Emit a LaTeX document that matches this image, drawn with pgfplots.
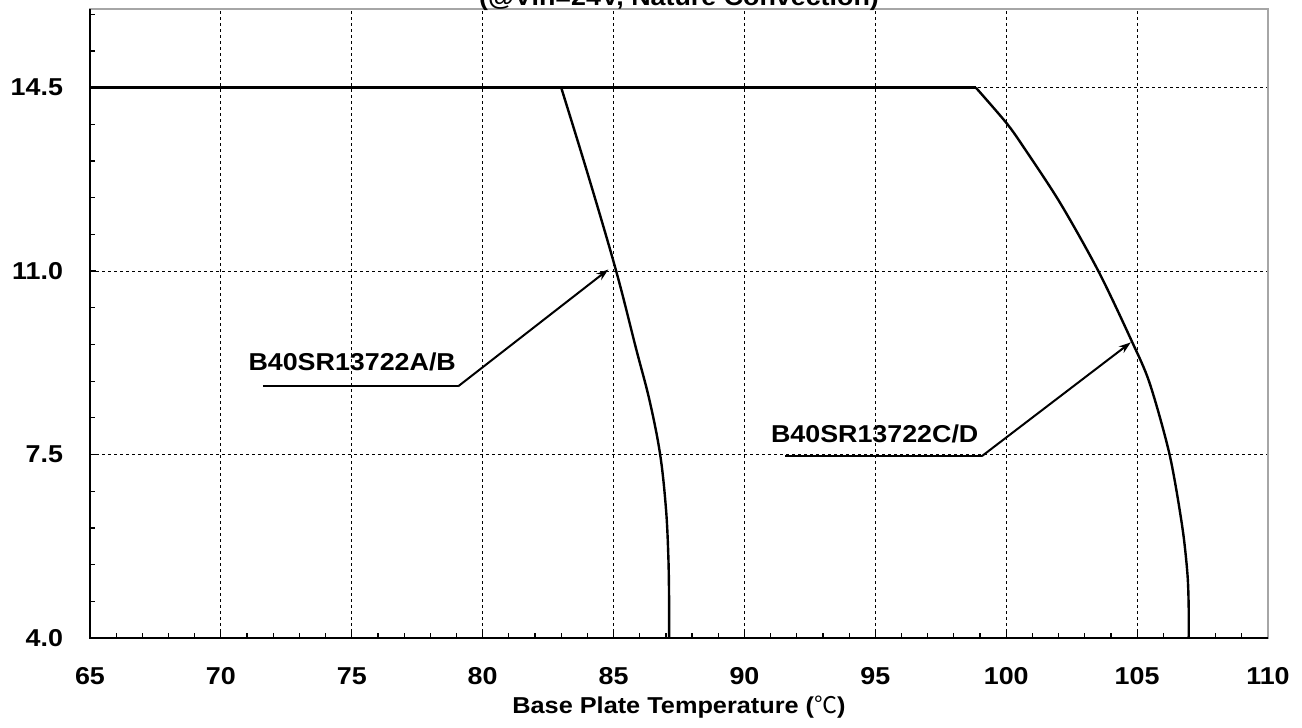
\documentclass[border=0pt]{standalone}
\usepackage{fontspec}
\setmainfont{Liberation Sans}[FakeStretch=1.1]
\newfontfamily\cjk{Noto Sans CJK SC}
\usepackage{pgfplots}
\pgfplotsset{compat=1.18}
\usetikzlibrary{arrows.meta}

\newcommand{\lbl}{\bfseries\fontsize{12.2}{14}\selectfont}

\begin{document}
\begin{tikzpicture}
% 1 px of the reference = 0.5pt
\useasboundingbox (0,0) rectangle (651pt,364pt);
\begin{axis}[
    at={(45pt,45pt)}, anchor=south west,
    width=589pt, height=314.5pt, scale only axis,
    xmin=65, xmax=110, ymin=4, ymax=16,
    xtick={65,70,...,110},
    ytick={4,7.5,11,14.5},
    yticklabels={4.0,7.5,11.0,14.5},
    minor x tick num=4,
    minor ytick={4.7,5.4,6.1,6.8,8.2,8.9,9.6,10.3,11.7,12.4,13.1,13.8,15.2,15.9},
    tick align=inside, tick pos=left,
    major tick length=3pt, minor tick length=2.5pt,
    every tick/.style={black, line width=0.6pt},
    grid=major,
    major grid style={black, line width=0.5pt, dash pattern=on 1.5pt off 1.5pt},
    axis line style={gray!70, line width=0.6pt},
    /pgf/number format/assume math mode=true,
    ticklabel style={font=\lbl},
    xticklabel style={anchor=base, yshift=-23.5pt},
    yticklabel style={xshift=-10pt},
    xlabel={Base Plate Temperature ({\cjk\mdseries ℃})},
    xlabel style={at={(axis description cs:0.5,0)}, anchor=center, yshift=-34.5pt,
        font=\bfseries\fontsize{11.5}{13}\selectfont},
    clip=false,
]
% left and bottom axis lines in black
\draw[black, line width=1pt] (rel axis cs:0,1) -- (rel axis cs:0,0) -- (rel axis cs:1,0);

% common flat part at 14.5
\addplot[black, line width=1.2pt, no marks] coordinates {(65,14.5) (98.84,14.5)};
% B40SR13722A/B
\addplot[black, line width=1.2pt, no marks, smooth, tension=0.6] coordinates {
    (83.0,14.5) (84.04,12.81) (85.1,11.0) (85.85,9.54) (86.38,8.52)
    (86.78,7.5) (87.0,6.48) (87.09,5.6) (87.12,4.8) (87.12,4.0)
};
% B40SR13722C/D
\addplot[black, line width=1.2pt, no marks, smooth, tension=0.5] coordinates {
    (98.84,14.5) (100.0,13.83) (100.67,13.36) (102.06,12.3) (103.52,11.0)
    (104.78,9.68) (105.48,8.86) (106.24,7.5) (106.72,6.14) (106.92,5.24) (106.97,4.6) (106.97,4.0)
};

% annotations
\draw[black, line width=1pt] (axis cs:71.6,8.8) -- (axis cs:79.06,8.8);
\draw[black, line width=1pt, -{Stealth[length=6pt,width=4pt]}] (axis cs:79.06,8.8) -- (axis cs:84.8,11.03);
\node[anchor=west, inner sep=0pt, font=\lbl] at (axis cs:71.04,9.26) {B40SR13722A/B};

\draw[black, line width=1pt] (axis cs:91.55,7.47) -- (axis cs:99.07,7.47);
\draw[black, line width=1pt, -{Stealth[length=6pt,width=4pt]}] (axis cs:99.07,7.47) -- (axis cs:104.76,9.64);
\node[anchor=west, inner sep=0pt, font=\lbl] at (axis cs:91.0,7.89) {B40SR13722C/D};
\end{axis}
% title, cut by the top edge of the picture as in the reference
\node[anchor=base, inner sep=0pt, font=\lbl] at (339.5pt,361pt) {(@Vin=24V, Nature Convection)};
\end{tikzpicture}
\end{document}
